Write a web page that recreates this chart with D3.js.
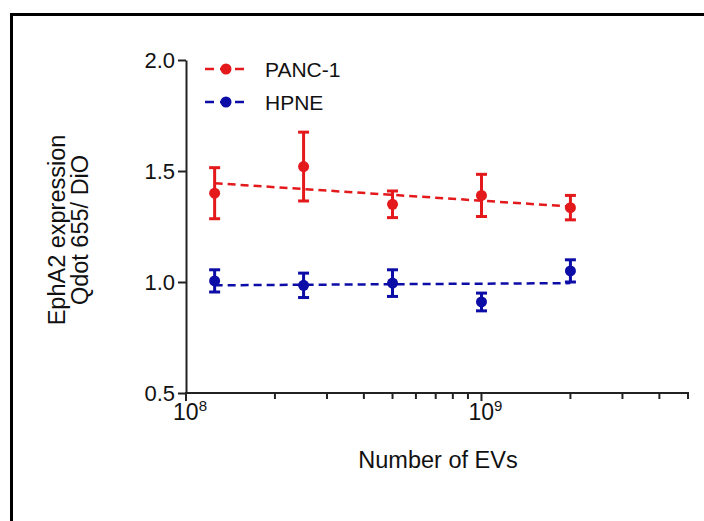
<!DOCTYPE html>
<html>
<head>
<meta charset="utf-8">
<script src="https://cdn.jsdelivr.net/npm/d3@7"></script>
<style>
  body { margin: 0; background: #fff; }
  svg { display: block; font-family: "Liberation Sans", Arial, sans-serif; }
</style>
</head>
<body>
<div id="chart"></div>
<script>
// EV counts on the x axis
var evCounts = [1.25e8, 2.5e8, 5e8, 1e9, 2e9];

// PANC-1 mean and error
var pancMean = [1.40, 1.52, 1.35, 1.39, 1.335];
var pancErr  = [0.115, 0.155, 0.06, 0.095, 0.055];
var pancFit  = [1.445, 1.34];

// HPNE mean and error
var hpneMean = [1.005, 0.985, 0.995, 0.91, 1.05];
var hpneErr  = [0.05, 0.055, 0.06, 0.04, 0.05];
var hpneFit  = [0.985, 0.995];

var yTicks = [0.5, 1.0, 1.5, 2.0];
var xMajor = [1e8, 1e9];
var xMinor = [2e8, 3e8, 4e8, 5e8, 6e8, 7e8, 8e8, 9e8, 2e9, 3e9, 4e9, 5e9];

var series = [
  {name: 'PANC-1', color: '#e3191c', mean: pancMean, err: pancErr, fit: pancFit},
  {name: 'HPNE', color: '#0c0ca6', mean: hpneMean, err: hpneErr, fit: hpneFit}
];

var W = 704, H = 521;
var svg = d3.select('#chart').append('svg').attr('width', W).attr('height', H);

// frame round the figure
svg.append('path').attr('d', 'M11.5,' + H + ' L11.5,14.5 L' + W + ',14.5')
  .attr('fill', 'none').attr('stroke', '#000').attr('stroke-width', 3);

var x = d3.scaleLog().domain([1e8, 5e9]).range([186, 688]);
var y = d3.scaleLinear().domain([0.5, 2.0]).range([393, 60]);

// y axis
var yAxis = d3.axisLeft(y).tickValues(yTicks).tickFormat(d3.format('.1f')).tickSize(8).tickSizeOuter(0);
var gy = svg.append('g').attr('transform', 'translate(186,0)').call(yAxis);
gy.attr('font-family', null).attr('font-size', null);
gy.select('.domain').attr('stroke', '#222').attr('stroke-width', 2);
gy.selectAll('.tick line').attr('stroke', '#222').attr('stroke-width', 2);
gy.selectAll('.tick text').attr('font-size', 22).attr('fill', '#111').attr('x', -11).attr('dy', '0.36em');

// x axis
svg.append('line').attr('x1', 185).attr('x2', 689).attr('y1', 393).attr('y2', 393)
  .attr('stroke', '#222').attr('stroke-width', 2);
svg.append('g').selectAll('line').data(xMinor).enter().append('line')
  .attr('x1', function(d) { return x(d); }).attr('x2', function(d) { return x(d); })
  .attr('y1', 393).attr('y2', 399)
  .attr('stroke', '#222').attr('stroke-width', 2);
svg.append('g').selectAll('line').data(xMajor).enter().append('line')
  .attr('x1', function(d) { return x(d); }).attr('x2', function(d) { return x(d); })
  .attr('y1', 393).attr('y2', 401)
  .attr('stroke', '#222').attr('stroke-width', 2);

var xl = svg.append('g').selectAll('text').data(xMajor).enter().append('text')
  .attr('x', function(d) { return x(d) + 4; }).attr('y', 420)
  .attr('text-anchor', 'middle').attr('font-size', 23).attr('fill', '#111');
xl.append('tspan').text('10');
xl.append('tspan').attr('dy', -9).attr('font-size', 15)
  .text(function(d) { return Math.round(Math.log10(d)); });

svg.append('text').attr('x', 438).attr('y', 468).attr('text-anchor', 'middle')
  .attr('font-size', 23.5).attr('fill', '#111').text('Number of EVs');

var yt = svg.append('text').attr('transform', 'translate(65,230) rotate(-90)')
  .attr('text-anchor', 'middle').attr('font-size', 23.5).attr('fill', '#111');
yt.append('tspan').attr('x', 0).attr('dy', 0).text('EphA2 expression');
yt.append('tspan').attr('x', 0).attr('dy', 23).text('Qdot 655/ DiO');

// series
series.forEach(function(s) {
  var g = svg.append('g');
  var ends = [evCounts[0], evCounts[evCounts.length - 1]];
  g.append('line')
    .attr('x1', x(ends[0])).attr('x2', x(ends[1]))
    .attr('y1', y(s.fit[0])).attr('y2', y(s.fit[1]))
    .attr('stroke', s.color).attr('stroke-width', 2.5).attr('stroke-dasharray', '8,5');

  var pts = evCounts.map(function(d, i) { return {x: d, m: s.mean[i], e: s.err[i]}; });
  var eb = g.selectAll('.eb').data(pts).enter().append('g');
  eb.append('line')
    .attr('x1', function(d) { return x(d.x); }).attr('x2', function(d) { return x(d.x); })
    .attr('y1', function(d) { return y(d.m - d.e); }).attr('y2', function(d) { return y(d.m + d.e); })
    .attr('stroke', s.color).attr('stroke-width', 3);
  [-1, 1].forEach(function(sg) {
    eb.append('line')
      .attr('x1', function(d) { return x(d.x) - 5.5; }).attr('x2', function(d) { return x(d.x) + 5.5; })
      .attr('y1', function(d) { return y(d.m + sg * d.e); }).attr('y2', function(d) { return y(d.m + sg * d.e); })
      .attr('stroke', s.color).attr('stroke-width', 3);
  });
  eb.append('circle')
    .attr('cx', function(d) { return x(d.x); }).attr('cy', function(d) { return y(d.m); })
    .attr('r', 5.5).attr('fill', s.color);
});

// legend
var leg = svg.append('g').selectAll('g').data(series).enter().append('g')
  .attr('transform', function(d, i) { return 'translate(0,' + (69 + i * 33) + ')'; });
leg.append('line').attr('x1', 205).attr('x2', 245).attr('y1', 0).attr('y2', 0)
  .attr('stroke', function(d) { return d.color; }).attr('stroke-width', 2.5)
  .attr('stroke-dasharray', '9,6');
leg.append('circle').attr('cx', 226).attr('cy', 0).attr('r', 5.5)
  .attr('fill', function(d) { return d.color; });
leg.append('text').attr('x', 265).attr('y', 7.5).attr('font-size', 21).attr('fill', '#111')
  .text(function(d) { return d.name; });
</script>
</body>
</html>
